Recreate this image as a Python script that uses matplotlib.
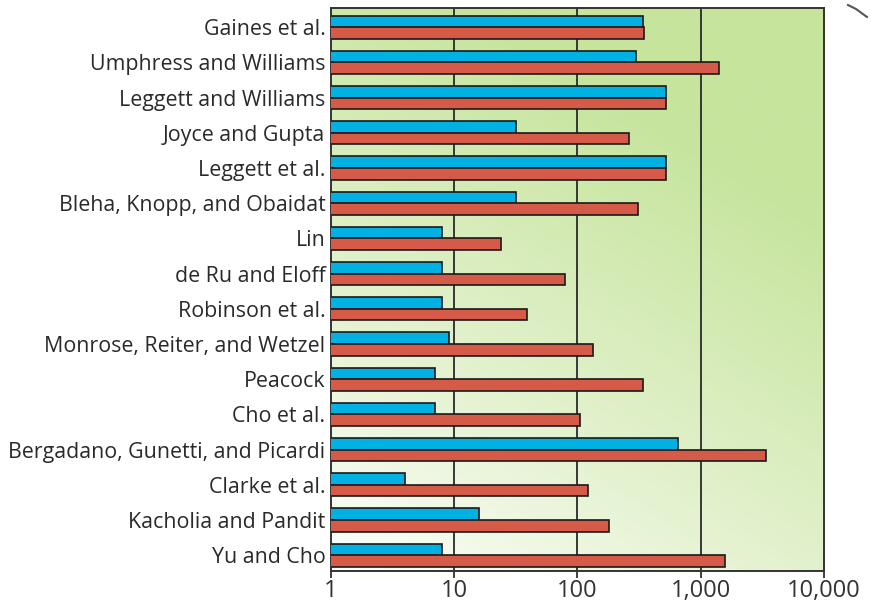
import numpy as np
import matplotlib.pyplot as plt
from matplotlib.colors import LinearSegmentedColormap
from matplotlib.lines import Line2D

# studies, top to bottom
studies = ['Gaines et al.', 'Umphress and Williams', 'Leggett and Williams',
           'Joyce and Gupta', 'Leggett et al.', 'Bleha, Knopp, and Obaidat',
           'Lin', 'de Ru and Eloff', 'Robinson et al.',
           'Monrose, Reiter, and Wetzel', 'Peacock', 'Cho et al.',
           'Bergadano, Gunetti, and Picardi', 'Clarke et al.',
           'Kacholia and Pandit', 'Yu and Cho']
blue_vals = [340, 300, 520, 32, 520, 32, 8, 8, 8, 9, 7, 7, 660, 4, 16, 8]
red_vals = [345, 1400, 520, 260, 520, 310, 24, 79, 39, 134, 340, 104, 3400, 121, 179, 1560]
xticks = [1, 10, 100, 1000, 10000]
xtick_labels = ['1', '10', '100', '1,000', '10,000']

fig = plt.figure(figsize=(8.71, 6.05), dpi=100)
ax = fig.add_axes([0.380, 0.056, 0.566, 0.931])

# background gradient, white bottom-left to green top-right
gx, gy = np.meshgrid(np.linspace(0, 1, 200), np.linspace(0, 1, 200))
t = np.clip(0.45 * gx + 0.85 * gy, 0, 1) ** 0.85
cmap = LinearSegmentedColormap.from_list('bg', ['#ffffff', '#c6e49c'])
ax.imshow(t, cmap=cmap, origin='lower', extent=[0, 1, 0, 1],
          transform=ax.transAxes, aspect='auto', zorder=0, vmin=0, vmax=1)

y = np.arange(len(studies))
h = 0.33
ax.barh(y - h / 2, blue_vals, height=h, color='#00b2e3', edgecolor='#1a1a1a',
        linewidth=1.2, zorder=3)
ax.barh(y + h / 2, red_vals, height=h, color='#d55a47', edgecolor='#1a1a1a',
        linewidth=1.2, zorder=3)

ax.set_xscale('log')
ax.set_xlim(1, 10000)
ax.set_ylim(15.45, -0.55)
ax.set_xticks(xticks)
ax.set_xticklabels(xtick_labels, fontsize=17, color='#333333', family='Open Sans')
ax.xaxis.set_minor_locator(plt.NullLocator())
ax.set_yticks(y)
ax.set_yticklabels(studies, fontsize=15.4, color='#2a2a2a', family='Open Sans')
ax.tick_params(axis='y', length=0, pad=4)
ax.tick_params(axis='x', length=5, width=1.3, color='#333333', pad=1)

for g in [10, 100, 1000]:
    ax.axvline(g, color='#2a2a2a', linewidth=1.3, zorder=2)
for s in ax.spines.values():
    s.set_color('#333333')
    s.set_linewidth(1.4)

# little stray stroke top right
fig.add_artist(Line2D([848 / 871, 856 / 871, 867 / 871],
                      [1 - 5 / 605, 1 - 9 / 605, 1 - 17 / 605],
                      color='#555555', linewidth=1.5))

fig.savefig('out.png', dpi=100)
